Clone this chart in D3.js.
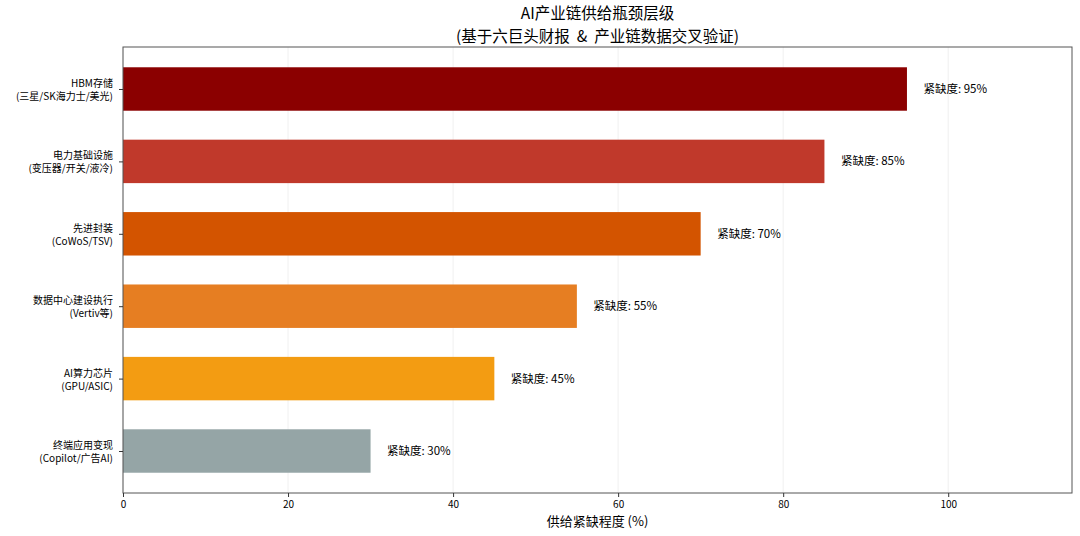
<!DOCTYPE html>
<html lang="zh">
<head>
  <meta charset="UTF-8">
  <title>AI产业链供给瓶颈层级</title>
  <script src="https://d3js.org/d3.v7.min.js"></script>
  <style>
    body { margin: 0; background: #fff; }
    svg text { font-family: "Noto Sans CJK SC", "DejaVu Sans", sans-serif; fill: #000; }
  </style>
</head>
<body>
  <div id="chart"></div>
  <script>
    // 层级（从上到下）
    const layers = [
      ["HBM存储", "(三星/SK海力士/美光)"],
      ["电力基础设施", "(变压器/开关/液冷)"],
      ["先进封装", "(CoWoS/TSV)"],
      ["数据中心建设执行", "(Vertiv等)"],
      ["AI算力芯片", "(GPU/ASIC)"],
      ["终端应用变现", "(Copilot/广告AI)"]
    ];
    const scarcity = [95, 85, 70, 55, 45, 30];
    const colors = ["#8B0000", "#C0392B", "#D35400", "#E67E22", "#F39C12", "#95A5A6"];
    const xTicks = [0, 20, 40, 60, 80, 100];
    const titleLines = ["AI产业链供给瓶颈层级", "(基于六巨头财报  &  产业链数据交叉验证)"];

    const W = 1080, H = 536;
    const m = { top: 47, right: 8, bottom: 43, left: 123 };
    const iw = W - m.left - m.right, ih = H - m.top - m.bottom;

    const svg = d3.select("#chart").append("svg")
      .attr("width", W).attr("height", H);

    const x = d3.scaleLinear().domain([0, 115]).range([0, iw]);
    // matplotlib 式的 y 轴：bar 高 0.6，5% 边距
    const y = d3.scaleLinear().domain([-0.58, 5.58]).range([0, ih]);
    const barH = 0.6;

    const g = svg.append("g").attr("transform", `translate(${m.left},${m.top})`);

    // 网格线
    g.selectAll(".grid")
      .data(xTicks)
      .enter()
      .append("line")
      .attr("x1", d => x(d)).attr("x2", d => x(d))
      .attr("y1", 0).attr("y2", ih)
      .attr("stroke", "#ececec").attr("stroke-width", 0.8);

    // 条形
    g.selectAll(".bar")
      .data(scarcity)
      .enter()
      .append("rect")
      .attr("x", x(0))
      .attr("y", (d, i) => y(i - barH / 2))
      .attr("width", d => x(d) - x(0))
      .attr("height", y(barH) - y(0))
      .attr("fill", (d, i) => colors[i]);

    // 数值标签
    g.selectAll(".val")
      .data(scarcity)
      .enter()
      .append("text")
      .attr("x", d => x(d + 2))
      .attr("y", (d, i) => y(i))
      .attr("dy", "0.35em")
      .attr("font-size", 11.5)
      .text(d => `紧缺度: ${d}%`);

    // 边框
    g.append("rect")
      .attr("width", iw).attr("height", ih)
      .attr("fill", "none").attr("stroke", "#555").attr("stroke-width", 1);

    // x 轴
    const xAxis = g.append("g")
      .attr("transform", `translate(0,${ih})`)
      .call(d3.axisBottom(x).tickValues(xTicks).tickSize(4).tickPadding(4));
    xAxis.select(".domain").remove();
    xAxis.selectAll("text").attr("font-size", 10);
    xAxis.selectAll("line").attr("stroke", "#333");

    // y 轴
    const yAxis = g.append("g")
      .call(d3.axisLeft(y).tickValues(d3.range(layers.length)).tickSize(4).tickFormat(""));
    yAxis.select(".domain").remove();
    yAxis.selectAll("line").attr("stroke", "#333");

    layers.forEach((lab, i) => {
      g.append("text")
        .attr("x", -10)
        .attr("y", y(i) - 2)
        .attr("text-anchor", "end")
        .attr("font-size", 10)
        .text(lab[0]);
      g.append("text")
        .attr("x", -10)
        .attr("y", y(i) + 11)
        .attr("text-anchor", "end")
        .attr("font-size", 10)
        .text(lab[1]);
    });

    // x 轴标题
    svg.append("text")
      .attr("x", m.left + iw / 2)
      .attr("y", 526)
      .attr("text-anchor", "middle")
      .attr("font-size", 13)
      .text("供给紧缺程度 (%)");

    // 标题
    titleLines.forEach((t, i) => {
      svg.append("text")
        .attr("x", m.left + iw / 2)
        .attr("y", 19 + i * 23)
        .attr("text-anchor", "middle")
        .attr("font-size", 15.5)
        .attr("xml:space", "preserve")
        .style("white-space", "pre")
        .text(t);
    });
  </script>
</body>
</html>
